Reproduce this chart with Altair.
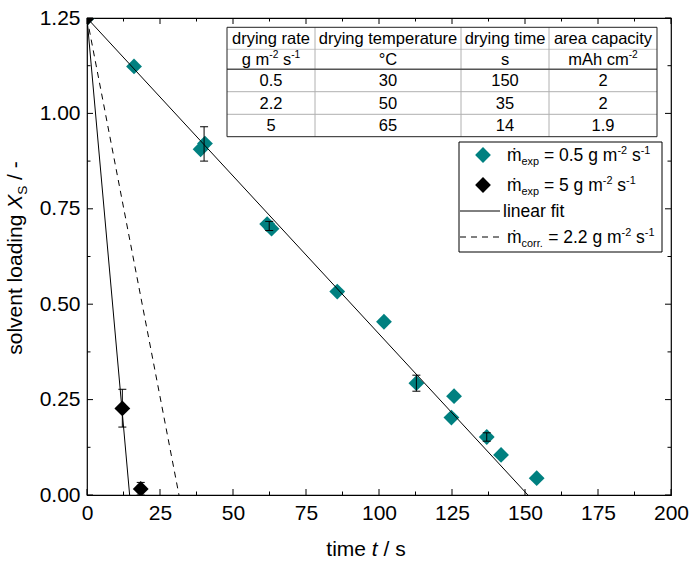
import altair as alt
import pandas as pd

# ---------------- data ----------------
teal_t = [0, 16.1, 38.9, 40.4, 61.7, 63.2, 85.7, 101.7, 112.8, 124.8, 125.7, 136.9, 141.8, 154.0]
teal_x = [1.25, 1.123, 0.906, 0.921, 0.71, 0.698, 0.533, 0.454, 0.293, 0.203, 0.259, 0.152, 0.105, 0.044]
black_t = [0, 12.1, 18.4]
black_x = [1.25, 0.227, 0.016]
err_t = [40.1, 62.4, 112.8, 136.9, 12.1, 18.4]
err_lo = [0.875, 0.693, 0.272, 0.141, 0.178, 0.0]
err_hi = [0.965, 0.717, 0.314, 0.163, 0.277, 0.033]
fit_slow_t = [0, 151.0]
fit_slow_x = [1.25, 0.0]
fit_fast_t = [0, 14.6]
fit_fast_x = [1.25, 0.0]
corr_t = [0, 31.5]
corr_x = [1.25, 0.0]

x_ticks = [0, 25, 50, 75, 100, 125, 150, 175, 200]
y_ticks = [0.0, 0.25, 0.5, 0.75, 1.0, 1.25]
x_minor = [12.5, 37.5, 62.5, 87.5, 112.5, 137.5, 162.5, 187.5]
y_minor = [0.125, 0.375, 0.625, 0.875, 1.125]

tab_head = ["drying rate", "drying temperature", "drying time", "area capacity"]
tab_rate = ["0.5", "2.2", "5"]
tab_temp = ["30", "50", "65"]
tab_time = ["150", "35", "14"]
tab_cap = ["2", "2", "1.9"]

TEAL = "#008080"
FONT = "Liberation Sans, Arial, sans-serif"

# ---------------- layout helpers ----------------
W, H = 584, 477
XMAX, YMAX = 200.0, 1.25


def dx(px):
    return px * XMAX / W


def dy(py):
    return YMAX * (1 - py / H)


WID = {' ': 278, '-': 333, '.': 278, '/': 278, '=': 584, '°': 400, 'ṁ': 833,
       'a': 556, 'b': 556, 'c': 500, 'd': 556, 'e': 556, 'f': 278, 'g': 556, 'h': 556,
       'i': 222, 'j': 222, 'k': 500, 'l': 222, 'm': 833, 'n': 556, 'o': 556, 'p': 556,
       'q': 556, 'r': 333, 's': 500, 't': 278, 'u': 556, 'v': 500, 'w': 722, 'x': 500,
       'y': 500, 'z': 500, 'A': 667, 'C': 722, 'S': 667, 'X': 667}
for d in "0123456789":
    WID[d] = 556


def tw(s, fs):
    return sum(WID.get(c, 556) for c in s) / 1000.0 * fs


def compose(parts, x, y, fs, center=False, rot=False, ss=0.62):
    sizes = [fs * ss if k in ("sub", "sup") else fs for _, k in parts]
    widths = [tw(t, s) for (t, k), s in zip(parts, sizes)]
    total = sum(widths)
    cur = -total / 2 if center else 0.0
    rows = []
    for (t, k), s, w in zip(parts, sizes, widths):
        lead = len(t) - len(t.lstrip(" "))
        pos = cur + tw(" " * lead, s)
        off = 0.22 * fs if k == "sub" else (-0.40 * fs if k == "sup" else 0.0)
        if rot:
            px, py = x + off, y - pos
        else:
            px, py = x + pos, y + off
        if t.strip():
            rows.append(dict(tx=dx(px), ty=dy(py), txt=t.strip(), fs=s, it=(k == "i"), rot=rot))
        cur += w
    return rows


AX = alt.Axis(values=x_ticks, format="d", ticks=False, domain=False, grid=False, title=None,
              labelFont=FONT, labelFontSize=21, labelColor="black", labelPadding=7,
              labelFlush=False, labelOverlap=False)
AY = alt.Axis(values=y_ticks, format=".2f", ticks=False, domain=False, grid=False, title=None,
              labelFont=FONT, labelFontSize=21, labelColor="black", labelPadding=7,
              labelFlush=False, labelOverlap=False)
XS = alt.Scale(domain=[0, XMAX], nice=False, zero=False)
YS = alt.Scale(domain=[0, YMAX], nice=False, zero=False)


def X(f):
    return alt.X(f, type="quantitative", scale=XS, axis=AX)


def Y(f):
    return alt.Y(f, type="quantitative", scale=YS, axis=AY)


layers = []

# ---------------- inward ticks ----------------
for vals, L in ((x_ticks, 6), (x_minor, 3.5)):
    d = pd.DataFrame({"v": vals})
    layers.append(alt.Chart(d).mark_rule(color="black", strokeWidth=1).encode(
        x=X("v"), y=alt.value(H), y2=alt.value(H - L)))
    layers.append(alt.Chart(d).mark_rule(color="black", strokeWidth=1).encode(
        x=X("v"), y=alt.value(0), y2=alt.value(L)))
for vals, L in ((y_ticks, 6), (y_minor, 3.5)):
    d = pd.DataFrame({"v": vals})
    layers.append(alt.Chart(d).mark_rule(color="black", strokeWidth=1).encode(
        y=Y("v"), x=alt.value(0), x2=alt.value(L)))
    layers.append(alt.Chart(d).mark_rule(color="black", strokeWidth=1).encode(
        y=Y("v"), x=alt.value(W), x2=alt.value(W - L)))

# ---------------- points ----------------
teal_df = pd.DataFrame({"t": teal_t, "X": teal_x})
black_df = pd.DataFrame({"t": black_t, "X": black_x})
layers.append(alt.Chart(teal_df).mark_point(shape="diamond", filled=True, size=250, opacity=1,
                                             color=TEAL, clip=True).encode(x=X("t"), y=Y("X")))
layers.append(alt.Chart(black_df).mark_point(shape="diamond", filled=True, size=250, opacity=1,
                                              color="black", clip=True).encode(x=X("t"), y=Y("X")))

# ---------------- lines ----------------
for tt, xx, dash in ((fit_slow_t, fit_slow_x, None), (fit_fast_t, fit_fast_x, None),
                     (corr_t, corr_x, [6, 5])):
    d = pd.DataFrame({"t": tt, "X": xx})
    kw = dict(color="black", strokeWidth=1, clip=True)
    if dash:
        kw["strokeDash"] = dash
    layers.append(alt.Chart(d).mark_line(**kw).encode(x=X("t"), y=Y("X")))

# ---------------- error bars ----------------
err_df = pd.DataFrame({"t": err_t, "lo": err_lo, "hi": err_hi})
layers.append(alt.Chart(err_df).mark_rule(color="black", strokeWidth=1).encode(
    x=X("t"), y=Y("lo"), y2=alt.Y2("hi")))
for f in ("lo", "hi"):
    layers.append(alt.Chart(err_df).mark_rule(color="black", strokeWidth=1, xOffset=-4, x2Offset=4).encode(
        x=X("t"), x2=alt.X2("t"), y=Y(f), y2=alt.Y2(f)))

# ---------------- table ----------------
cols = [140, 228, 374, 462, 570]
rowl = [9.3, 31.3, 51.3, 73.7, 96.3, 118.7]
centers_x = [(cols[i] + cols[i + 1]) / 2 for i in range(4)]
centers_y = [(rowl[i] + rowl[i + 1]) / 2 for i in range(5)]

bg = pd.DataFrame({"a": [dx(cols[0])], "b": [dx(cols[-1])], "c": [dy(rowl[0])], "d": [dy(rowl[-1])]})
layers.append(alt.Chart(bg).mark_rect(fill="white", stroke=None).encode(
    x=X("a"), x2=alt.X2("b"), y=Y("c"), y2=alt.Y2("d")))

hl = []
hl.append((cols[0], cols[-1], rowl[1], "#c8c8c8", 1))
hl.append((cols[0], cols[-1], rowl[3], "#b0b0b0", 1))
hl.append((cols[0], cols[-1], rowl[4], "#b0b0b0", 1))
hdf = pd.DataFrame({"a": [dx(h[0]) for h in hl], "b": [dx(h[1]) for h in hl],
                    "y": [dy(h[2]) for h in hl], "col": [h[3] for h in hl], "sw": [h[4] for h in hl]})
layers.append(alt.Chart(hdf).mark_rule().encode(
    x=X("a"), x2=alt.X2("b"), y=Y("y"), color=alt.Color("col:N", scale=None),
    strokeWidth=alt.StrokeWidth("sw:Q", scale=None)))
vdf = pd.DataFrame({"x": [dx(c) for c in cols[1:4]], "a": [dy(rowl[0])] * 3, "b": [dy(rowl[-1])] * 3})
layers.append(alt.Chart(vdf).mark_rule(color="#b0b0b0", strokeWidth=1).encode(
    x=X("x"), y=Y("a"), y2=alt.Y2("b")))
hd = pd.DataFrame({"a": [dx(cols[0])], "b": [dx(cols[-1])], "y": [dy(rowl[2])]})
layers.append(alt.Chart(hd).mark_rule(color="#555555", strokeWidth=1.5).encode(
    x=X("a"), x2=alt.X2("b"), y=Y("y")))
layers.append(alt.Chart(bg).mark_rect(filled=False, stroke="#222222", strokeWidth=1).encode(
    x=X("a"), x2=alt.X2("b"), y=Y("c"), y2=alt.Y2("d")))

texts = []
TFS = 16.5
for i, h in enumerate(tab_head):
    texts += compose([(h, "n")], centers_x[i], centers_y[0] + 0.35 * TFS, TFS, center=True)
units = [[("g m", "n"), ("-2", "sup"), (" s", "n"), ("-1", "sup")],
         [("°C", "n")], [("s", "n")],
         [("mAh cm", "n"), ("-2", "sup")]]
for i, u in enumerate(units):
    texts += compose(u, centers_x[i], centers_y[1] + 0.35 * TFS, TFS, center=True)
for r in range(3):
    for i, col in enumerate((tab_rate, tab_temp, tab_time, tab_cap)):
        texts += compose([(col[r], "n")], centers_x[i], centers_y[2 + r] + 0.35 * TFS, TFS, center=True)

# ---------------- legend ----------------
LB = (372, 575, 124, 234)
lb = pd.DataFrame({"a": [dx(LB[0])], "b": [dx(LB[1])], "c": [dy(LB[2])], "d": [dy(LB[3])]})
layers.append(alt.Chart(lb).mark_rect(fill="white", stroke="black", strokeWidth=1).encode(
    x=X("a"), x2=alt.X2("b"), y=Y("c"), y2=alt.Y2("d")))
ROWY = [137, 167, 193, 219]
layers.append(alt.Chart(teal_df.head(1)).mark_point(shape="diamond", filled=True, size=250, opacity=1,
                                                     color=TEAL).encode(x=alt.value(396), y=alt.value(ROWY[0])))
layers.append(alt.Chart(black_df.head(1)).mark_point(shape="diamond", filled=True, size=250, opacity=1,
                                                      color="black").encode(x=alt.value(396), y=alt.value(ROWY[1])))
layers.append(alt.Chart(teal_df.head(1)).mark_rule(color="black", strokeWidth=1).encode(
    x=alt.value(373), x2=alt.value(413), y=alt.value(ROWY[2])))
layers.append(alt.Chart(teal_df.head(1)).mark_rule(color="black", strokeWidth=1, strokeDash=[6, 5]).encode(
    x=alt.value(373), x2=alt.value(413), y=alt.value(ROWY[3])))

LFS = 17.5
texts += compose([("ṁ", "n"), ("exp", "sub"), (" = 0.5 g m", "n"), ("-2", "sup"), (" s", "n"), ("-1", "sup")],
                 420, ROWY[0] + 0.35 * LFS, LFS)
texts += compose([("ṁ", "n"), ("exp", "sub"), (" = 5 g m", "n"), ("-2", "sup"), (" s", "n"), ("-1", "sup")],
                 420, ROWY[1] + 0.35 * LFS, LFS)
texts += compose([("linear fit", "n")], 416, ROWY[2] + 0.35 * LFS, LFS)
texts += compose([("ṁ", "n"), ("corr.", "sub"), (" = 2.2 g m", "n"), ("-2", "sup"), (" s", "n"), ("-1", "sup")],
                 420, ROWY[3] + 0.35 * LFS, LFS)

# ---------------- axis titles ----------------
AFS = 21
texts += compose([("time ", "n"), ("t", "i"), (" / s", "n")], 279, 538, AFS, center=True)
texts += compose([("solvent loading ", "n"), ("X", "i"), ("S", "sub"), (" / -", "n")], -65, 240, AFS,
                 center=True, rot=True, ss=0.65)

tdf = pd.DataFrame(texts)
for it in (False, True):
    for rot in (False, True):
        sub = tdf[(tdf.it == it) & (tdf.rot == rot)]
        if len(sub) == 0:
            continue
        kw = dict(align="left", baseline="alphabetic", font=FONT, color="black",
                  fontStyle="italic" if it else "normal")
        if rot:
            kw["angle"] = 270
        layers.append(alt.Chart(sub).mark_text(**kw).encode(
            x=X("tx"), y=Y("ty"), text="txt:N", size=alt.Size("fs:Q", scale=None)))

chart = alt.layer(*layers).properties(
    width=W, height=H,
    padding={"left": 87, "top": 18, "right": 23, "bottom": 66},
    autosize=alt.AutoSizeParams(type="none"),
    background="white",
).configure_view(stroke="black", strokeWidth=1.2)

chart.save("out.html", embed_options={"renderer": "svg", "actions": False})
